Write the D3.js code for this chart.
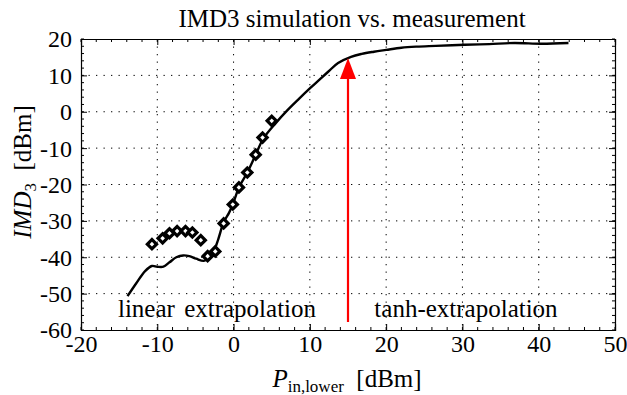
<!DOCTYPE html>
<html><head><meta charset="utf-8">
<script src="https://cdn.jsdelivr.net/npm/d3@7"></script>
<style>body{margin:0;background:#fff}</style>
</head><body><svg id="c" width="627" height="395"></svg>
<script>
const xTicks = [-20,-10,0,10,20,30,40,50];
const yTicks = [-60,-50,-40,-30,-20,-10,0,10,20];
const simX = [-13.9,-12.8,-11.6,-10.7,-10.0,-9.2,-8.4,-7.5,-6.6,-5.8,-4.9,-3.9,-3.2,-2.6,-2.0,-1.3,-0.6,-0.1,0.7,1.8,2.9,3.9,5.5,7.1,8.6,10.1,11.3,12.4,13.7,15.4,16.8,18.4,20.0,22.0,24.0,26.5,30.3,33.5,36.8,40.4,43.9];
const simY = [-50.7,-47.3,-43.8,-42.4,-42.6,-42.6,-41.4,-40.0,-39.5,-39.7,-40.4,-41.0,-40.2,-38.4,-35.0,-30.4,-27.8,-25.5,-20.8,-16.7,-11.8,-7.4,-3.2,0.5,3.6,6.6,8.9,11.0,13.4,15.1,15.9,16.5,17.0,17.6,17.9,18.1,18.4,18.6,18.9,18.7,18.9];
const measX = [-10.7,-9.3,-8.4,-7.4,-6.3,-5.4,-4.3,-3.4,-2.4,-1.3,-0.1,0.7,1.8,2.9,3.8,5.0];
const measY = [-36.4,-34.8,-33.4,-32.8,-32.8,-33.2,-35.3,-39.7,-38.4,-30.7,-25.5,-20.8,-16.7,-11.8,-7.1,-2.5];
const arrowX = 15, arrowFrom = -57.8, arrowTo = 14.8;

const FONT = "'Liberation Serif'";
const svg = d3.select("#c");
const L=81,R=615,T=39,B=330;
const x = d3.scaleLinear().domain([-20,50]).range([L,R]);
const y = d3.scaleLinear().domain([-60,20]).range([B,T]);

// grid
const g = svg.append("g");
xTicks.slice(1,-1).forEach(t=>g.append("line").attr("x1",x(t)).attr("x2",x(t)).attr("y1",T).attr("y2",B)
  .attr("stroke","#000").attr("stroke-width",1).attr("stroke-dasharray","1.3,6.2"));
yTicks.slice(1,-1).forEach(t=>g.append("line").attr("x1",L).attr("x2",R).attr("y1",y(t)).attr("y2",y(t))
  .attr("stroke","#000").attr("stroke-width",1).attr("stroke-dasharray","1.3,6.2"));

// minor ticks
const minorX = d3.range(-20,50.01,2), minorY = d3.range(-60,20.01,2);
minorX.forEach(t=>{g.append("line").attr("x1",x(t)).attr("x2",x(t)).attr("y1",B).attr("y2",B-3).attr("stroke","#000");
  g.append("line").attr("x1",x(t)).attr("x2",x(t)).attr("y1",T).attr("y2",T+3).attr("stroke","#000");});
minorY.forEach(t=>{g.append("line").attr("x1",L).attr("x2",L+3).attr("y1",y(t)).attr("y2",y(t)).attr("stroke","#000");
  g.append("line").attr("x1",R).attr("x2",R-3).attr("y1",y(t)).attr("y2",y(t)).attr("stroke","#000");});

// axes
const fmt = d => String(d);
const ax = svg.append("g").attr("transform",`translate(0,${B})`).call(d3.axisBottom(x).tickValues(xTicks).tickSize(-6).tickPadding(3).tickFormat(fmt));
const ay = svg.append("g").attr("transform",`translate(${L},0)`).call(d3.axisLeft(y).tickValues(yTicks).tickSize(-6).tickPadding(9).tickFormat(fmt));
svg.append("g").attr("transform",`translate(0,${T})`).call(d3.axisTop(x).tickValues(xTicks).tickSize(-6).tickFormat(""));
svg.append("g").attr("transform",`translate(${R},0)`).call(d3.axisRight(y).tickValues(yTicks).tickSize(-6).tickFormat(""));
svg.selectAll(".domain").attr("stroke","#000").attr("stroke-width",1.2);
svg.selectAll(".tick line").attr("stroke","#000");
svg.selectAll(".tick text").style("font-family",FONT).style("font-size","24px").attr("fill","#000");
ax.selectAll(".tick text").attr("dy","0.8em");
ay.selectAll(".tick text").attr("dy","0.33em");

// curve
svg.append("path").datum(simX.map((v,i)=>[v,simY[i]]))
  .attr("d",d3.line().x(d=>x(d[0])).y(d=>y(d[1])).curve(d3.curveCatmullRom))
  .attr("fill","none").attr("stroke","#000").attr("stroke-width",2.4);

// markers
measX.forEach((v,i)=>{
  const cx=x(v), cy=y(measY[i]);
  svg.append("path").attr("d",d3.symbol(d3.symbolSquare,42)())
    .attr("transform",`translate(${cx},${cy}) rotate(45)`).attr("fill","#fff").attr("stroke","#000").attr("stroke-width",3.2);
});

// arrow
svg.append("line").attr("x1",x(arrowX)).attr("x2",x(arrowX)).attr("y1",y(arrowFrom)).attr("y2",y(arrowTo)+20)
  .attr("stroke","#f00").attr("stroke-width",2.2);
svg.append("path").attr("d",`M${x(arrowX)},${y(arrowTo)} L${x(arrowX)-8},${y(arrowTo)+21} L${x(arrowX)+8},${y(arrowTo)+21} Z`).attr("fill","#f00");

function txt(xp, yp, s, size){
  return svg.append("text").attr("x",xp).attr("y",yp).attr("text-anchor","middle")
    .style("font-family",FONT).style("font-size",(size||25)+"px").attr("fill","#000").text(s);
}
// annotations
txt(217,317,"linear extrapolation",25).attr("word-spacing","3px");
txt(466,317,"tanh-extrapolation",25);
// title
txt(352,27,"IMD3 simulation vs. measurement",25);

// x label
const xl = svg.append("text").attr("x",347).attr("y",387).attr("text-anchor","middle")
  .style("font-family",FONT).style("font-size","25px").attr("fill","#000");
xl.append("tspan").style("font-style","italic").text("P");
xl.append("tspan").style("font-size","17px").attr("dy",5).text("in,lower");
xl.append("tspan").attr("dy",-5).text("\u2002[dBm]");

// y label
const yl = svg.append("text").attr("transform","translate(31,172) rotate(-90)").attr("text-anchor","middle")
  .style("font-family",FONT).style("font-size","25px").attr("fill","#000");
yl.append("tspan").style("font-style","italic").text("IMD");
yl.append("tspan").style("font-size","17px").attr("dy",5).text("3");
yl.append("tspan").attr("dy",-5).text("\u2002[dBm]");
</script></body></html>
